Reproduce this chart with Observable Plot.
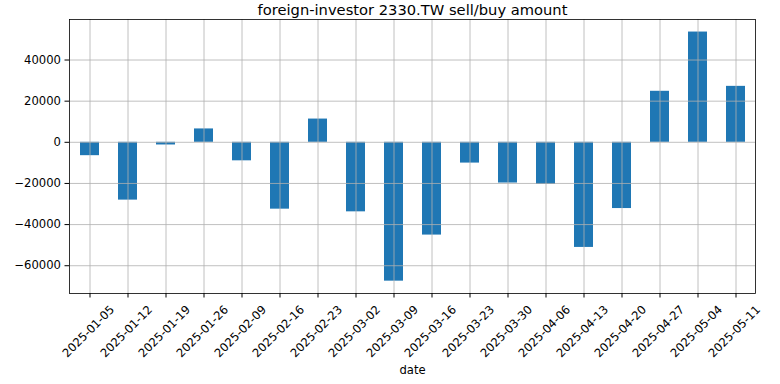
<!DOCTYPE html>
<html>
<head>
<meta charset="utf-8">
<script src="https://cdn.jsdelivr.net/npm/d3@7"></script>
<script src="https://cdn.jsdelivr.net/npm/@observablehq/plot@0.6"></script>
<style>
  body { margin: 0; background: #fff; }
  #chart svg { display: block; }
</style>
</head>
<body>
<div id="chart"></div>
<script>
const dates = ["2025-01-05","2025-01-12","2025-01-19","2025-01-26","2025-02-09","2025-02-16","2025-02-23","2025-03-02","2025-03-09","2025-03-16","2025-03-23","2025-03-30","2025-04-06","2025-04-13","2025-04-20","2025-04-27","2025-05-04","2025-05-11"];
const amounts = [-6500,-28100,-1300,6500,-9000,-32500,11300,-33800,-67500,-45100,-10100,-19800,-20500,-51100,-32200,24800,53600,27200];
const yTicks = [-60000,-40000,-20000,0,20000,40000];
const titleText = "foreign-investor 2330.TW sell/buy amount";
const xLabel = "date";

const data = dates.map((d, i) => ({date: d, value: amounts[i]}));
const fmt = v => v < 0 ? "\u2212" + Math.abs(v) : String(v);
const font = "DejaVu Sans, sans-serif";

const chart = Plot.plot({
  width: 780,
  height: 384,
  marginLeft: 69,
  marginRight: 25,
  marginTop: 19,
  marginBottom: 91,
  style: {fontFamily: font, fontSize: "11.6px", color: "black", background: "white"},
  x: {type: "band", domain: dates, paddingInner: 0.5, paddingOuter: 0.25, label: null},
  y: {domain: [-73500, 59700], label: null},
  marks: [
    Plot.barY(data, {x: "date", y: "value", fill: "#1f77b4"}),
    Plot.gridX(dates, {stroke: "#b0b0b0", strokeOpacity: 1, strokeWidth: 0.8}),
    Plot.gridY(yTicks, {stroke: "#b0b0b0", strokeOpacity: 1, strokeWidth: 0.8}),
    Plot.axisY(yTicks, {tickSize: 4.5, tickPadding: 4, tickFormat: fmt, label: null, fontSize: 11.6, stroke: "black"}),
    Plot.axisX(dates, {tickSize: 4.5, tickFormat: () => "", label: null, stroke: "black"}),
    Plot.text(dates, {x: d => d, frameAnchor: "bottom", rotate: -45, textAnchor: "middle", lineAnchor: "middle", dy: 38, dx: -1.5, fontSize: 11.6, fill: "black"}),
    Plot.text([xLabel], {text: d => d, frameAnchor: "bottom", lineAnchor: "middle", dy: 77, fontSize: 11.6, fill: "black"}),
    Plot.text([titleText], {text: d => d, frameAnchor: "top", lineAnchor: "bottom", dy: -5, fontSize: 14.7, fill: "black"}),
    Plot.frame({stroke: "black", strokeWidth: 0.8})
  ]
});
document.getElementById("chart").appendChild(chart);
</script>
</body>
</html>
